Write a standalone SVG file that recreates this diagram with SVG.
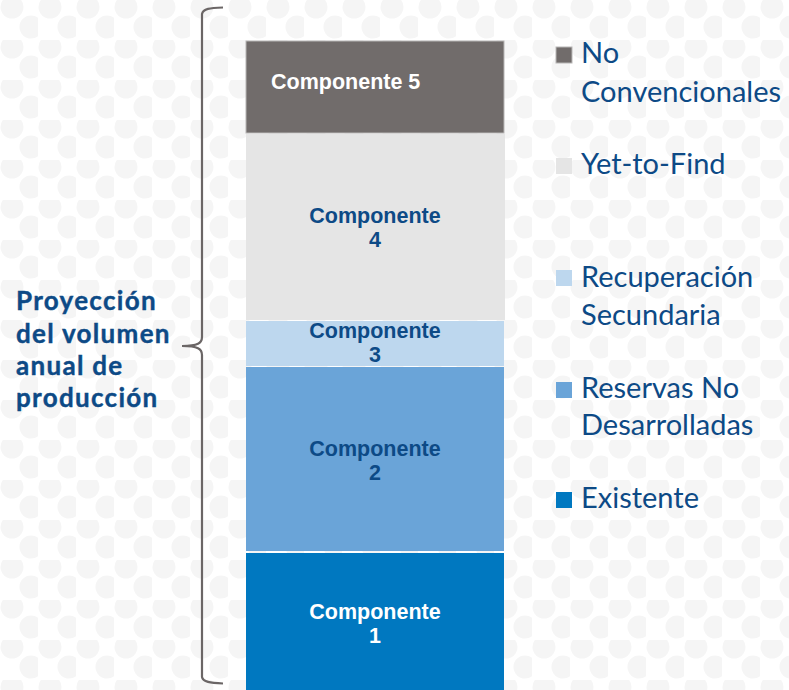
<svg xmlns="http://www.w3.org/2000/svg" width="789" height="690" viewBox="0 0 789 690">
  <defs>
    <pattern id="dots" x="0" y="0" width="38" height="40" patternUnits="userSpaceOnUse">
      <circle cx="12" cy="7" r="11.5" fill="#f5f5f5"/>
      <circle cx="31" cy="27" r="11.5" fill="#f5f5f5"/>
    </pattern>
  </defs>
  <style>
    .bar-label { font-family: "Liberation Sans", Arial, sans-serif; font-weight: bold; font-size: 21.5px; }
    .dark { fill: #0d4a86; }
    .light { fill: #ffffff; }
    .legend { font-family: Lato, "Open Sans", sans-serif; font-size: 29px; fill: #0d4a86; }
    .title { font-family: Lato, "Open Sans", sans-serif; font-weight: bold; font-size: 26px; letter-spacing: 1.3px; fill: #0d4a86; stroke: #0d4a86; stroke-width: 0.4px; }
    .brace { fill: none; stroke: #6b6666; stroke-width: 2.2; }
  </style>

  <!-- background -->
  <rect width="789" height="690" fill="#ffffff"/>
  <rect width="789" height="690" fill="url(#dots)"/>

  <!-- stacked bar -->
  <g id="comp5">
    <rect x="246" y="41" width="258" height="92" fill="#716c6b" stroke="#b8b6b6" stroke-width="1"/>
    <text class="bar-label light" x="271" y="89">Componente 5</text>
  </g>
  <g id="comp4">
    <rect x="246" y="134" width="259" height="186" fill="#e5e5e5"/>
    <text class="bar-label dark" text-anchor="middle" x="375" y="223">Componente</text>
    <text class="bar-label dark" text-anchor="middle" x="375" y="247">4</text>
  </g>
  <g id="comp3">
    <rect x="246" y="321" width="258" height="45" fill="#bdd7ee"/>
    <text class="bar-label dark" text-anchor="middle" x="375" y="338">Componente</text>
    <text class="bar-label dark" text-anchor="middle" x="375" y="362">3</text>
  </g>
  <g id="comp2">
    <rect x="246" y="367" width="258" height="184" fill="#6aa4d8"/>
    <text class="bar-label dark" text-anchor="middle" x="375" y="456">Componente</text>
    <text class="bar-label dark" text-anchor="middle" x="375" y="480">2</text>
  </g>
  <g id="comp1">
    <rect x="246" y="553" width="258" height="137" fill="#0078c0"/>
    <text class="bar-label light" text-anchor="middle" x="375" y="619">Componente</text>
    <text class="bar-label light" text-anchor="middle" x="375" y="643">1</text>
  </g>

  <!-- curly brace spanning the bar -->
  <g id="connectors">
    <path class="brace" d="M223,7.5 C210,8 203,8.5 202,14 L202,337 C202,343 198,346 182,346 C198,346 202,349 202,355 L202,677 C203,682 210,683 223,683.5"/>
  </g>

  <g id="title">
    <text class="title" x="16" y="310">Proyección</text>
    <text class="title" x="16" y="343">del volumen</text>
    <text class="title" x="16" y="375">anual de</text>
    <text class="title" x="16" y="407">producción</text>
  </g>

  <!-- legend -->
  <g id="legend-noconv">
    <rect x="556" y="47" width="16" height="16" fill="#716c6b" stroke="#b8b6b6" stroke-width="1"/>
    <text class="legend" x="581" y="63">No</text>
    <text class="legend" x="581" y="102">Convencionales</text>
  </g>
  <g id="legend-ytf">
    <rect x="556" y="158" width="16" height="16" fill="#e5e5e5"/>
    <text class="legend" x="581" y="174">Yet-to-Find</text>
  </g>
  <g id="legend-recsec">
    <rect x="556" y="270" width="16" height="16" fill="#bdd7ee"/>
    <text class="legend" x="581" y="287">Recuperación</text>
    <text class="legend" x="581" y="325">Secundaria</text>
  </g>
  <g id="legend-resnodes">
    <rect x="556" y="382" width="16" height="16" fill="#6aa4d8"/>
    <text class="legend" x="581" y="398">Reservas No</text>
    <text class="legend" x="581" y="435">Desarrolladas</text>
  </g>
  <g id="legend-exist">
    <rect x="556" y="492" width="16" height="16" fill="#0078c0"/>
    <text class="legend" x="581" y="508">Existente</text>
  </g>
</svg>
